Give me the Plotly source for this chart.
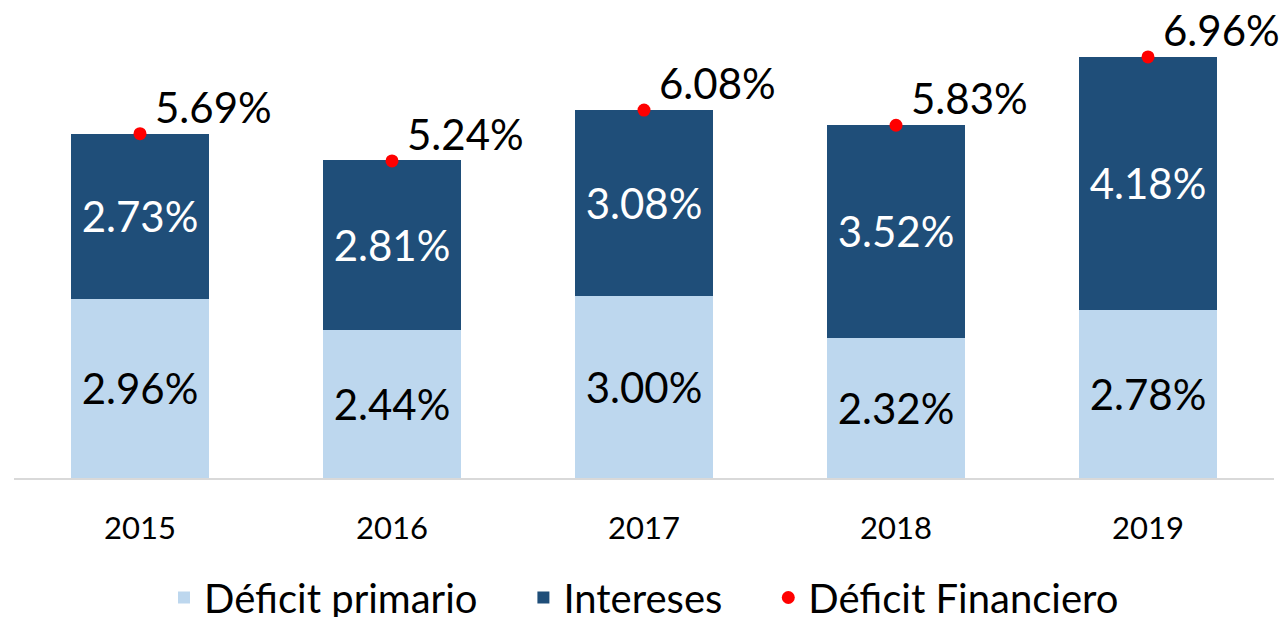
import plotly.graph_objects as go

years = ["2015", "2016", "2017", "2018", "2019"]
primario = [2.96, 2.44, 3.00, 2.32, 2.78]
intereses = [2.73, 2.81, 3.08, 3.52, 4.18]
financiero = [5.69, 5.24, 6.08, 5.83, 6.96]
series_names = ["Déficit primario", "Intereses", "Déficit Financiero"]

FONT = "Lato"
NB = "\u00a0"

fig = go.Figure()
fig.add_trace(go.Bar(
    x=years, y=primario, name=series_names[0] + NB * 4,
    marker=dict(color="#BDD7EE", line=dict(width=0)),
    text=[f"{v:.2f}%" for v in primario], textposition="inside",
    insidetextanchor="middle", textangle=0,
    textfont=dict(color="black", size=42, family=FONT),
))
fig.add_trace(go.Bar(
    x=years, y=intereses, name=series_names[1] + NB * 4,
    marker=dict(color="#1F4E79", line=dict(width=0)),
    text=[f"{v:.2f}%" for v in intereses], textposition="inside",
    insidetextanchor="middle", textangle=0,
    textfont=dict(color="white", size=42, family=FONT),
))
fig.add_trace(go.Scatter(
    x=years, y=financiero, name=series_names[2],
    mode="markers",
    marker=dict(color="#FF0000", size=13),
    cliponaxis=False,
))
for i, v in enumerate(financiero):
    fig.add_annotation(x=i, y=v, xref="x", yref="y", text=f"{v:.2f}%", showarrow=False,
                       xanchor="left", yanchor="middle", xshift=13, yshift=27,
                       font=dict(size=42, family=FONT, color="black"))

fig.update_layout(
    barmode="stack", bargap=0.45,
    width=1284, height=617,
    margin=dict(l=14, r=10, t=0, b=139, autoexpand=False),
    plot_bgcolor="white", paper_bgcolor="white",
    font=dict(family=FONT, color="black"),
    showlegend=True,
    legend=dict(orientation="h", x=0.5, xanchor="center", y=-0.182, yanchor="top",
                font=dict(size=40, family=FONT), itemwidth=30,
                traceorder="normal"),
    xaxis=dict(type="category", categoryorder="array", categoryarray=years,
               range=[-0.5, len(years) - 0.5],
               showline=True, linecolor="#D9D9D9", linewidth=2,
               tickfont=dict(size=31, family=FONT), ticks="", ticklen=0,
               ticklabelstandoff=22),
    yaxis=dict(range=[0, 7.9], visible=False, showgrid=False, zeroline=False),
)

fig.write_html("out.html")
